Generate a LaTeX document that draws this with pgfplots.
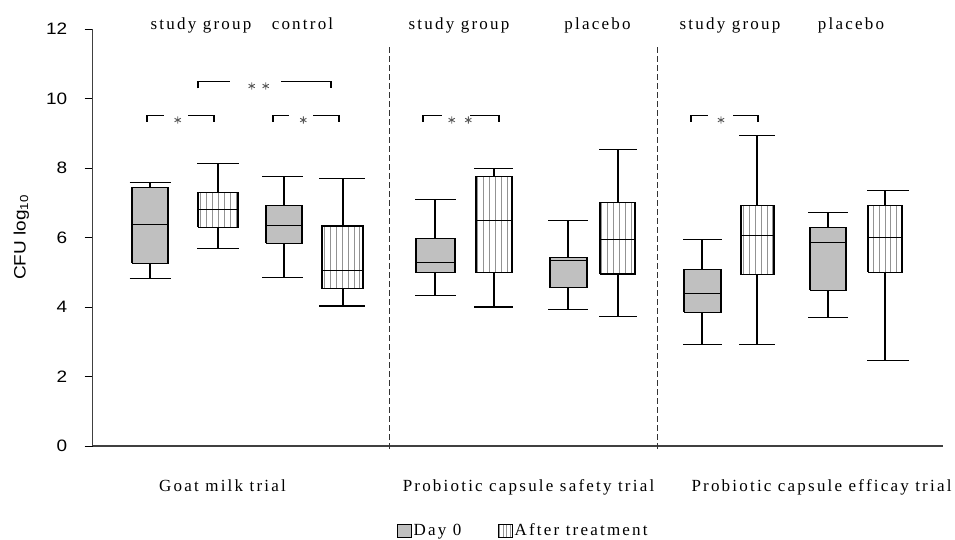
\documentclass[border=0pt]{standalone}
\usepackage{fontspec}
\usepackage{pgfplots}
\pgfplotsset{compat=1.18}
\usetikzlibrary{patterns.meta}
\setmainfont{Liberation Serif}
\newfontfamily\labfont[LetterSpace=13]{Liberation Serif}
\newfontfamily\sansfont[FakeStretch=1.15]{Liberation Sans}
\newcommand\lab{\labfont\fontsize{17}{20}\selectfont}
\newcommand\tickf{\sansfont\fontsize{16.5}{19}\selectfont}
\definecolor{boxgray}{RGB}{192,192,192}

\pgfplotsset{
  % box bodies: quartile rectangles
  day0/.style={draw=black, line width=1.1pt, fill=boxgray, forget plot},
  after/.style={draw=black, line width=1.1pt,
    pattern={Lines[angle=90,distance=5.9pt,line width=1pt]}, pattern color=gray!85,
    forget plot},
  % medians, whiskers and caps
  wsk/.style={black, line width=1.1pt, unbounded coords=jump, forget plot},
  brk/.style={black, line width=1.1pt, forget plot},
  star/.style={only marks, mark=asterisk, mark size=3.6pt, black!65,
    mark options={line width=0.9pt}, forget plot},
  divider/.style={black!80, line width=1pt, dash pattern=on 6pt off 3pt, forget plot},
}

\begin{document}
\begin{tikzpicture}
\useasboundingbox (-92.7pt,-93pt) rectangle (862.3pt,446pt);
\begin{axis}[
  scale only axis, width=850.3pt, height=417pt,
  xmin=9.27, xmax=94.3, ymin=0, ymax=12,
  axis lines=left, axis line style={-, line width=1.3pt, black!75},
  xtick=\empty, ytick={0,2,...,12},
  tick align=outside, major tick length=8pt,
  tick style={black, line width=1pt},
  yticklabel style={font=\tickf, xshift=-14pt},
  /pgf/number format/assume math mode=true,
  ylabel={CFU log\textsubscript{10}},
  every axis y label/.style={at={(axis description cs:-0.084,0.5)}, rotate=90,
    anchor=center, font=\tickf},
  clip=false,
  legend style={draw=none, fill=none, font=\lab, legend columns=2,
    at={(axis description cs:0.3582,-0.181)}, anchor=north west, inner sep=0pt,
    /tikz/every even column/.append style={column sep=35pt}},
]

% ---------------- Goat milk trial ----------------
% study group, day 0
\addplot[day0] coordinates {(13.2,5.26) (16.8,5.26) (16.8,7.45) (13.2,7.45) (13.2,5.26)};
\addplot[wsk] coordinates {(13.2,6.38) (16.8,6.38) (nan,nan)
  (15.0,7.45) (15.0,7.57) (nan,nan) (12.95,7.57) (17.05,7.57) (nan,nan)
  (15.0,5.26) (15.0,4.81) (nan,nan) (12.95,4.81) (17.05,4.81)};
% study group, after treatment
\addplot[after] coordinates {(19.8,6.30) (23.8,6.30) (23.8,7.29) (19.8,7.29) (19.8,6.30)};
\addplot[wsk] coordinates {(19.8,6.80) (23.8,6.80) (nan,nan)
  (21.8,7.29) (21.8,8.14) (nan,nan) (19.7,8.14) (23.9,8.14) (nan,nan)
  (21.8,6.30) (21.8,5.68) (nan,nan) (19.7,5.68) (23.9,5.68)};
% control, day 0
\addplot[day0] coordinates {(26.6,5.83) (30.2,5.83) (30.2,6.92) (26.6,6.92) (26.6,5.83)};
\addplot[wsk] coordinates {(26.6,6.35) (30.2,6.35) (nan,nan)
  (28.4,6.92) (28.4,7.75) (nan,nan) (26.2,7.75) (30.3,7.75) (nan,nan)
  (28.4,5.83) (28.4,4.85) (nan,nan) (26.2,4.85) (30.3,4.85)};
% control, after treatment
\addplot[after] coordinates {(32.2,4.52) (36.3,4.52) (36.3,6.33) (32.2,6.33) (32.2,4.52)};
\addplot[wsk] coordinates {(32.2,5.05) (36.3,5.05) (nan,nan)
  (34.3,6.33) (34.3,7.70) (nan,nan) (31.9,7.70) (36.5,7.70) (nan,nan)
  (34.3,4.52) (34.3,4.03) (nan,nan) (31.9,4.03) (36.5,4.03)};

% ---------------- Probiotic capsule safety trial ----------------
\addplot[day0] coordinates {(41.6,4.99) (45.5,4.99) (45.5,5.98) (41.6,5.98) (41.6,4.99)};
\addplot[wsk] coordinates {(41.6,5.28) (45.5,5.28) (nan,nan)
  (43.5,5.98) (43.5,7.10) (nan,nan) (41.5,7.10) (45.6,7.10) (nan,nan)
  (43.5,4.99) (43.5,4.34) (nan,nan) (41.5,4.34) (45.6,4.34)};
\addplot[after] coordinates {(47.6,4.99) (51.2,4.99) (51.2,7.76) (47.6,7.76) (47.6,4.99)};
\addplot[wsk] coordinates {(47.6,6.48) (51.2,6.48) (nan,nan)
  (49.4,7.76) (49.4,7.99) (nan,nan) (47.4,7.99) (51.3,7.99) (nan,nan)
  (49.4,4.99) (49.4,4.00) (nan,nan) (47.4,4.00) (51.3,4.00)};
\addplot[day0] coordinates {(55.0,4.56) (58.7,4.56) (58.7,5.42) (55.0,5.42) (55.0,4.56)};
\addplot[wsk] coordinates {(55.0,5.35) (58.7,5.35) (nan,nan)
  (56.8,5.42) (56.8,6.50) (nan,nan) (54.8,6.50) (58.8,6.50) (nan,nan)
  (56.8,4.56) (56.8,3.93) (nan,nan) (54.8,3.93) (58.8,3.93)};
\addplot[after] coordinates {(60.0,4.95) (63.5,4.95) (63.5,7.02) (60.0,7.02) (60.0,4.95)};
\addplot[wsk] coordinates {(60.0,5.94) (63.5,5.94) (nan,nan)
  (61.8,7.02) (61.8,8.53) (nan,nan) (59.9,8.53) (63.7,8.53) (nan,nan)
  (61.8,4.95) (61.8,3.72) (nan,nan) (59.9,3.72) (63.7,3.72)};

% ---------------- Probiotic capsule efficacy trial ----------------
\addplot[day0] coordinates {(68.4,3.85) (72.1,3.85) (72.1,5.09) (68.4,5.09) (68.4,3.85)};
\addplot[wsk] coordinates {(68.4,4.39) (72.1,4.39) (nan,nan)
  (70.2,5.09) (70.2,5.93) (nan,nan) (68.3,5.93) (72.2,5.93) (nan,nan)
  (70.2,3.85) (70.2,2.93) (nan,nan) (68.3,2.93) (72.2,2.93)};
\addplot[after] coordinates {(74.1,4.93) (77.4,4.93) (77.4,6.91) (74.1,6.91) (74.1,4.93)};
\addplot[wsk] coordinates {(74.1,6.07) (77.4,6.07) (nan,nan)
  (75.7,6.91) (75.7,8.93) (nan,nan) (73.9,8.93) (77.5,8.93) (nan,nan)
  (75.7,4.93) (75.7,2.93) (nan,nan) (73.9,2.93) (77.5,2.93)};
\addplot[day0] coordinates {(81.0,4.48) (84.6,4.48) (84.6,6.29) (81.0,6.29) (81.0,4.48)};
\addplot[wsk] coordinates {(81.0,5.85) (84.6,5.85) (nan,nan)
  (82.8,6.29) (82.8,6.73) (nan,nan) (80.8,6.73) (84.8,6.73) (nan,nan)
  (82.8,4.48) (82.8,3.69) (nan,nan) (80.8,3.69) (84.8,3.69)};
\addplot[after] coordinates {(86.8,5.00) (90.2,5.00) (90.2,6.91) (86.8,6.91) (86.8,5.00)};
\addplot[wsk] coordinates {(86.8,6.00) (90.2,6.00) (nan,nan)
  (88.5,6.91) (88.5,7.36) (nan,nan) (86.7,7.36) (90.9,7.36) (nan,nan)
  (88.5,5.00) (88.5,2.47) (nan,nan) (86.7,2.47) (90.9,2.47)};

% trial separators
\addplot[divider] coordinates {(38.9,11.48) (38.9,-0.09)};
\addplot[divider] coordinates {(65.7,11.48) (65.7,-0.09)};

% significance brackets
\addplot[brk] coordinates {(14.7,9.33) (14.7,9.51) (16.4,9.51)};
\addplot[brk] coordinates {(18.8,9.51) (21.4,9.51) (21.4,9.33)};
\addplot[brk] coordinates {(19.8,10.29) (19.8,10.50) (23.0,10.50)};
\addplot[brk] coordinates {(28.1,10.50) (33.1,10.50) (33.1,10.29)};
\addplot[brk] coordinates {(27.3,9.33) (27.3,9.51) (28.9,9.51)};
\addplot[brk] coordinates {(31.3,9.51) (33.9,9.51) (33.9,9.33)};
\addplot[brk] coordinates {(42.3,9.33) (42.3,9.51) (44.2,9.51)};
\addplot[brk] coordinates {(47.0,9.51) (49.9,9.51) (49.9,9.33)};
\addplot[brk] coordinates {(69.1,9.33) (69.1,9.51) (70.8,9.51)};
\addplot[brk] coordinates {(73.3,9.51) (75.8,9.51) (75.8,9.33)};
\addplot[star] coordinates {(17.77,9.38) (25.17,10.36) (26.57,10.36) (30.33,9.38)
  (45.17,9.38) (46.83,9.38) (72.1,9.38)};

% group headings
\node[font=\lab, anchor=base] at (axis cs:20.1,11.99) {study group};
\node[font=\lab, anchor=base] at (axis cs:30.25,11.99) {control};
\node[font=\lab, anchor=base] at (axis cs:45.9,11.99) {study group};
\node[font=\lab, anchor=base] at (axis cs:59.75,11.99) {placebo};
\node[font=\lab, anchor=base] at (axis cs:73.0,11.99) {study group};
\node[font=\lab, anchor=base] at (axis cs:85.1,11.99) {placebo};

% trial names
\node[font=\lab, anchor=base] at (axis cs:22.25,-1.32) {Goat milk trial};
\node[font=\lab, anchor=base] at (axis cs:52.85,-1.32) {Probiotic capsule safety trial};
\node[font=\lab, anchor=base] at (axis cs:82.15,-1.32) {Probiotic capsule efficay trial};

% legend
\addlegendimage{legend image code/.code={\draw[draw=black, line width=0.8pt, fill=boxgray] (0pt,-7pt) rectangle (13.4pt,5.7pt);}}
\addlegendentry{Day 0}
\addlegendimage{legend image code/.code={\draw[draw=black, line width=0.8pt,
  pattern={Lines[angle=90,distance=3.4pt,line width=0.8pt]}, pattern color=gray!85] (0pt,-7pt) rectangle (13.4pt,5.7pt);}}
\addlegendentry{After treatment}
\end{axis}
\end{tikzpicture}
\end{document}
